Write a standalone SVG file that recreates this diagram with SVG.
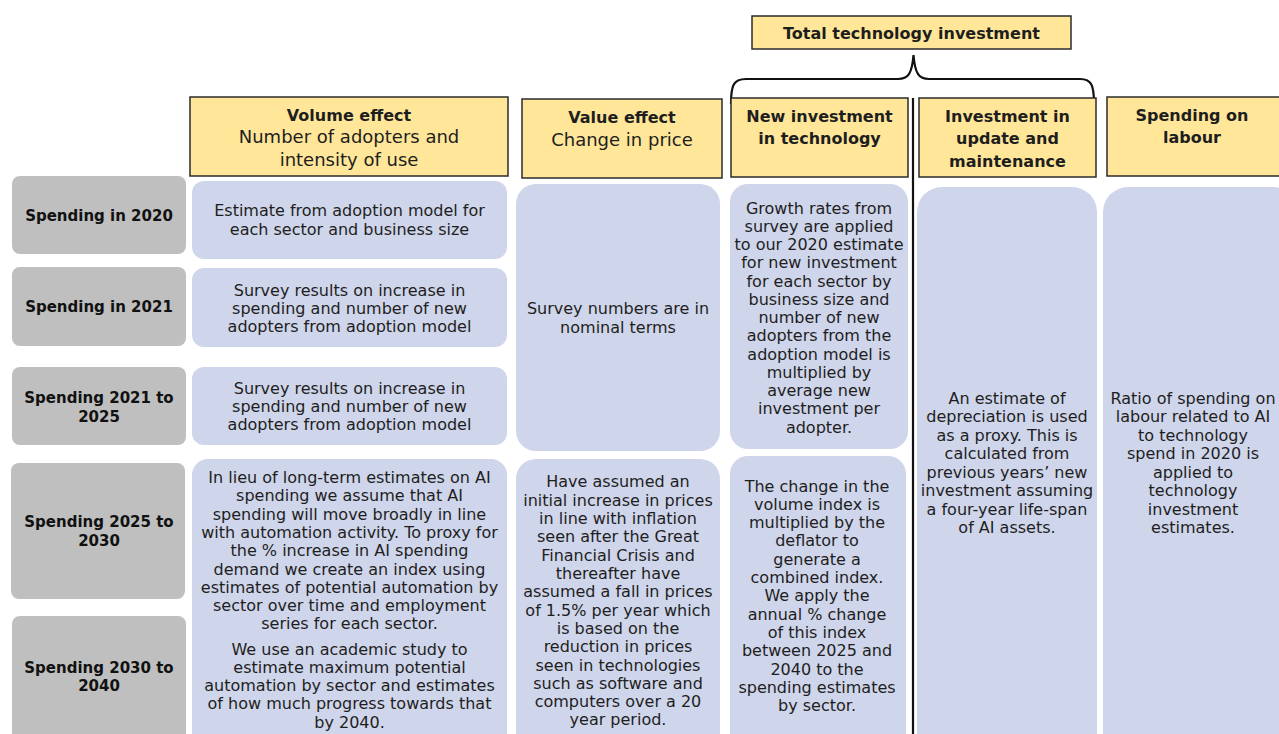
<svg xmlns="http://www.w3.org/2000/svg" width="1279" height="734" viewBox="0 0 1279 734">
<style>
.hdr{fill:#FFE699;stroke:#2b2b2b;stroke-width:1.5}
.cell{fill:#CFD5EA}
.lab{fill:#BFBFBF}
text{font-family:"DejaVu Sans","Noto Sans",sans-serif;fill:#1e1e1e;text-anchor:middle}
.b{font-weight:bold;font-size:16px}
.h{font-size:18px}
.t{font-size:16px}
.l{font-weight:bold;font-size:15px;fill:#111}
.conn{fill:none;stroke:#111;stroke-width:2.2}
</style>
<rect width="1279" height="734" fill="#ffffff"/>

<g id="connectors">
<path class="conn" d="M731,104 C731,86 733,79 746,79 L898,79 C908,79 912,74 913.5,55 C915,74 919,79 929,79 L1080,79 C1092,79 1094,86 1094,104"/>
<line class="conn" x1="913" y1="98" x2="913" y2="734" stroke-width="2.5"/>
</g>

<g id="total-technology-investment">
<rect class="hdr" x="752" y="16" width="319" height="33"/>
<text class="b" x="911.5" y="38.5">Total technology investment</text>
</g>

<g id="header-volume">
<rect class="hdr" x="190" y="97" width="318" height="79"/>
<text x="349" y="120.5"><tspan class="b">Volume effect</tspan></text>
<text class="h" x="349" y="143">Number of adopters and</text>
<text class="h" x="349" y="166">intensity of use</text>
</g>

<g id="header-value">
<rect class="hdr" x="522" y="99" width="200" height="79"/>
<text class="b" x="622" y="122.5">Value effect</text>
<text class="h" x="622" y="146">Change in price</text>
</g>

<g id="header-new-investment">
<rect class="hdr" x="731" y="98" width="177" height="79"/>
<text class="b" x="819.5" y="122">New investment</text>
<text class="b" x="819.5" y="144">in technology</text>
</g>

<g id="header-update">
<rect class="hdr" x="919" y="98" width="177" height="79"/>
<text class="b" x="1007.5" y="122">Investment in</text>
<text class="b" x="1007.5" y="144">update and</text>
<text class="b" x="1007.5" y="166.5">maintenance</text>
</g>

<g id="header-labour">
<rect class="hdr" x="1107" y="97" width="185" height="79"/>
<text class="b" x="1192" y="120.5">Spending on</text>
<text class="b" x="1192" y="142.5">labour</text>
</g>

<g id="row-2020">
<rect class="lab" x="12" y="176" width="174" height="78" rx="8"/>
<text class="l" x="99" y="220.5">Spending in 2020</text>
</g>
<g id="row-2021">
<rect class="lab" x="12" y="267" width="174" height="79" rx="8"/>
<text class="l" x="99" y="312">Spending in 2021</text>
</g>
<g id="row-2021-2025">
<rect class="lab" x="12" y="367" width="174" height="78" rx="8"/>
<text class="l" x="99" y="402.5">Spending 2021 to</text>
<text class="l" x="99" y="421.5">2025</text>
</g>
<g id="row-2025-2030">
<rect class="lab" x="11" y="463" width="174" height="136" rx="8"/>
<text class="l" x="99" y="526.5">Spending 2025 to</text>
<text class="l" x="99" y="545.5">2030</text>
</g>
<g id="row-2030-2040">
<rect class="lab" x="12" y="616" width="174" height="130" rx="8"/>
<text class="l" x="99" y="672.5">Spending 2030 to</text>
<text class="l" x="99" y="691">2040</text>
</g>

<g id="volume-2020">
<rect class="cell" x="192" y="181" width="315" height="78" rx="12"/>
<text class="t"><tspan x="349.5" y="215.5">Estimate from adoption model for</tspan><tspan x="349.5" dy="19">each sector and business size</tspan></text>
</g>
<g id="volume-2021">
<rect class="cell" x="192" y="268" width="315" height="79" rx="12"/>
<text class="t"><tspan x="349.5" y="295.5">Survey results on increase in</tspan><tspan x="349.5" dy="18">spending and number of new</tspan><tspan x="349.5" dy="18">adopters from adoption model</tspan></text>
</g>
<g id="volume-2021-2025">
<rect class="cell" x="192" y="367" width="315" height="78" rx="12"/>
<text class="t"><tspan x="349.5" y="393.5">Survey results on increase in</tspan><tspan x="349.5" dy="18">spending and number of new</tspan><tspan x="349.5" dy="18">adopters from adoption model</tspan></text>
</g>
<g id="volume-2025-2040">
<rect class="cell" x="192" y="459" width="315" height="300" rx="16"/>
<text class="t"><tspan x="349.5" y="483">In lieu of long-term estimates on AI</tspan><tspan x="349.5" dy="18.3">spending we assume that AI</tspan><tspan x="349.5" dy="18.3">spending will move broadly in line</tspan><tspan x="349.5" dy="18.3">with automation activity. To proxy for</tspan><tspan x="349.5" dy="18.3">the % increase in AI spending</tspan><tspan x="349.5" dy="18.3">demand we create an index using</tspan><tspan x="349.5" dy="18.3">estimates of potential automation by</tspan><tspan x="349.5" dy="18.3">sector over time and employment</tspan><tspan x="349.5" dy="18.3">series for each sector.</tspan><tspan x="349.5" y="654.5">We use an academic study to</tspan><tspan x="349.5" dy="18.3">estimate maximum potential</tspan><tspan x="349.5" dy="18.3">automation by sector and estimates</tspan><tspan x="349.5" dy="18.3">of how much progress towards that</tspan><tspan x="349.5" dy="18.3">by 2040.</tspan></text>
</g>

<g id="value-upper">
<rect class="cell" x="516" y="184" width="204" height="267" rx="20"/>
<text class="t"><tspan x="618" y="313.5">Survey numbers are in</tspan><tspan x="618" dy="19.4">nominal terms</tspan></text>
</g>
<g id="value-lower">
<rect class="cell" x="516" y="459" width="204" height="300" rx="20"/>
<text class="t"><tspan x="618" y="487.2">Have assumed an</tspan><tspan x="618" dy="18.33">initial increase in prices</tspan><tspan x="618" dy="18.33">in line with inflation</tspan><tspan x="618" dy="18.33">seen after the Great</tspan><tspan x="618" dy="18.33">Financial Crisis and</tspan><tspan x="618" dy="18.33">thereafter have</tspan><tspan x="618" dy="18.33">assumed a fall in prices</tspan><tspan x="618" dy="18.33">of 1.5% per year which</tspan><tspan x="618" dy="18.33">is based on the</tspan><tspan x="618" dy="18.33">reduction in prices</tspan><tspan x="618" dy="18.33">seen in technologies</tspan><tspan x="618" dy="18.33">such as software and</tspan><tspan x="618" dy="18.33">computers over a 20</tspan><tspan x="618" dy="18.33">year period.</tspan></text>
</g>

<g id="new-investment-upper">
<rect class="cell" x="730" y="184" width="178" height="265" rx="18"/>
<text class="t"><tspan x="819" y="213.5">Growth rates from</tspan><tspan x="819" dy="18.25">survey are applied</tspan><tspan x="819" dy="18.25">to our 2020 estimate</tspan><tspan x="819" dy="18.25">for new investment</tspan><tspan x="819" dy="18.25">for each sector by</tspan><tspan x="819" dy="18.25">business size and</tspan><tspan x="819" dy="18.25">number of new</tspan><tspan x="819" dy="18.25">adopters from the</tspan><tspan x="819" dy="18.25">adoption model is</tspan><tspan x="819" dy="18.25">multiplied by</tspan><tspan x="819" dy="18.25">average new</tspan><tspan x="819" dy="18.25">investment per</tspan><tspan x="819" dy="18.25">adopter.</tspan></text>
</g>
<g id="new-investment-lower">
<rect class="cell" x="730" y="456" width="176" height="300" rx="18"/>
<text class="t"><tspan x="817" y="491.5">The change in the</tspan><tspan x="817" dy="18.33">volume index is</tspan><tspan x="817" dy="18.33">multiplied by the</tspan><tspan x="817" dy="18.33">deflator to</tspan><tspan x="817" dy="18.33">generate a</tspan><tspan x="817" dy="18.33">combined index.</tspan><tspan x="817" dy="18.33">We apply the</tspan><tspan x="817" dy="18.33">annual % change</tspan><tspan x="817" dy="18.33">of this index</tspan><tspan x="817" dy="18.33">between 2025 and</tspan><tspan x="817" dy="18.33">2040 to the</tspan><tspan x="817" dy="18.33">spending estimates</tspan><tspan x="817" dy="18.33">by sector.</tspan></text>
</g>

<g id="update-maintenance">
<rect class="cell" x="917" y="187" width="180" height="570" rx="25"/>
<text class="t"><tspan x="1007" y="403.5">An estimate of</tspan><tspan x="1007" dy="18.5">depreciation is used</tspan><tspan x="1007" dy="18.5">as a proxy. This is</tspan><tspan x="1007" dy="18.5">calculated from</tspan><tspan x="1007" dy="18.5">previous years’ new</tspan><tspan x="1007" dy="18.5">investment assuming</tspan><tspan x="1007" dy="18.5">a four-year life-span</tspan><tspan x="1007" dy="18.5">of AI assets.</tspan></text>
</g>

<g id="labour">
<rect class="cell" x="1103" y="187" width="195" height="570" rx="25"/>
<text class="t"><tspan x="1193" y="403.5">Ratio of spending on</tspan><tspan x="1193" dy="18.5">labour related to AI</tspan><tspan x="1193" dy="18.5">to technology</tspan><tspan x="1193" dy="18.5">spend in 2020 is</tspan><tspan x="1193" dy="18.5">applied to</tspan><tspan x="1193" dy="18.5">technology</tspan><tspan x="1193" dy="18.5">investment</tspan><tspan x="1193" dy="18.5">estimates.</tspan></text>
</g>
</svg>
